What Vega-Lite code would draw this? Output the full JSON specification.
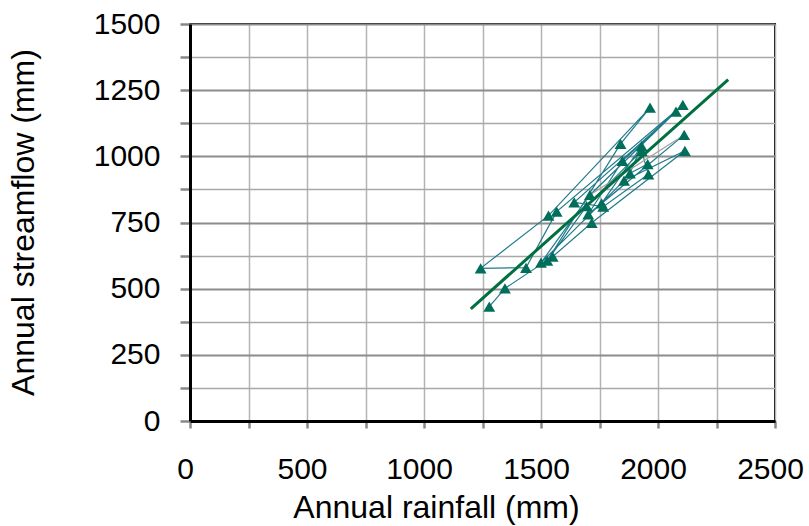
{
  "$schema": "https://vega.github.io/schema/vega-lite/v6.json",
  "autosize": {"type": "none"},
  "padding": {"left": 190, "top": 24, "right": 34, "bottom": 105},
  "width": 585,
  "height": 397,
  "background": "white",
  "config": {
    "font": "Liberation Sans",
    "view": {"stroke": "black", "strokeWidth": 2}
  },
  "datasets": {
    "obs": [
      {"order": 1, "rain": 1279, "flow": 432},
      {"order": 2, "rain": 1346, "flow": 501},
      {"order": 3, "rain": 1550, "flow": 621},
      {"order": 4, "rain": 1717, "flow": 749},
      {"order": 5, "rain": 2115, "flow": 1021},
      {"order": 6, "rain": 1855, "flow": 908},
      {"order": 7, "rain": 1500, "flow": 598},
      {"order": 8, "rain": 1709, "flow": 854},
      {"order": 9, "rain": 2106, "flow": 1194},
      {"order": 10, "rain": 1567, "flow": 791},
      {"order": 11, "rain": 1436, "flow": 579},
      {"order": 12, "rain": 1242, "flow": 577},
      {"order": 13, "rain": 1532, "flow": 776},
      {"order": 14, "rain": 1966, "flow": 1184},
      {"order": 15, "rain": 1840, "flow": 1047},
      {"order": 16, "rain": 1527, "flow": 606},
      {"order": 17, "rain": 1695, "flow": 812},
      {"order": 18, "rain": 1930, "flow": 1021},
      {"order": 19, "rain": 1959, "flow": 932},
      {"order": 20, "rain": 1766, "flow": 810},
      {"order": 21, "rain": 1642, "flow": 826},
      {"order": 22, "rain": 2077, "flow": 1169},
      {"order": 23, "rain": 1848, "flow": 983},
      {"order": 24, "rain": 1702, "flow": 781},
      {"order": 25, "rain": 2112, "flow": 1081},
      {"order": 26, "rain": 1759, "flow": 822},
      {"order": 27, "rain": 1930, "flow": 1039},
      {"order": 28, "rain": 1880, "flow": 936},
      {"order": 29, "rain": 1956, "flow": 971}
    ],
    "gray": [
      {"rain": 2112, "flow": 1081},
      {"rain": 1709, "flow": 854}
    ],
    "fit": [
      {"rain": 1200, "flow": 424},
      {"rain": 2300, "flow": 1290}
    ]
  },
  "encoding": {
    "x": {
      "field": "rain",
      "type": "quantitative",
      "scale": {"domain": [0, 2500], "nice": false, "zero": false},
      "axis": {
        "title": "Annual rainfall (mm)",
        "values": [0, 250, 500, 750, 1000, 1250, 1500, 1750, 2000, 2250, 2500],
        "format": "d",
        "labelExpr": "datum.value % 500 === 0 ? datum.label : ''",
        "labelFontSize": 30,
        "labelColor": "black",
        "labelPadding": 26,
        "labelOffset": -5,
        "labelFlush": false,
        "labelOverlap": false,
        "tickSize": 7,
        "tickColor": "#888888",
        "tickWidth": 2.5,
        "domainColor": "black",
        "domainWidth": 3,
        "gridColor": "#b4b4b4",
        "gridWidth": 1.5,
        "gridOpacity": 1,
        "titleFontSize": 32,
        "titleFontWeight": "normal",
        "titleColor": "black",
        "titleX": 246,
        "titleY": 96,
        "titleAlign": "center",
        "titleBaseline": "alphabetic"
      }
    },
    "y": {
      "field": "flow",
      "type": "quantitative",
      "scale": {"domain": [0, 1500], "nice": false, "zero": false},
      "axis": {
        "title": "Annual streamflow (mm)",
        "values": [0, 125, 250, 375, 500, 625, 750, 875, 1000, 1125, 1250, 1375, 1500],
        "format": "d",
        "labelExpr": "datum.value % 250 === 0 ? datum.label : ''",
        "labelFontSize": 30,
        "labelColor": "black",
        "labelPadding": 20,
        "labelFlush": false,
        "labelOverlap": false,
        "tickSize": 10,
        "tickColor": "#888888",
        "tickWidth": 2.5,
        "domainColor": "black",
        "domainWidth": 3,
        "gridColor": {"condition": {"test": "datum.value % 250 === 0", "value": "#8c8c8c"}, "value": "#a8a8a8"},
        "gridWidth": {"condition": {"test": "datum.value % 250 === 0", "value": 2.2}, "value": 1.5},
        "gridOpacity": 1,
        "titleFontSize": 32,
        "titleFontWeight": "normal",
        "titleColor": "black",
        "titleAngle": -90,
        "titleX": -157,
        "titleY": 198,
        "titleAlign": "center",
        "titleBaseline": "alphabetic"
      }
    }
  },
  "layer": [
    {
      "data": {"name": "obs"},
      "mark": {"type": "line", "color": "#1f7a8c", "strokeWidth": 1.2},
      "encoding": {"order": {"field": "order", "type": "quantitative"}}
    },
    {
      "data": {"name": "gray"},
      "mark": {"type": "line", "color": "#a0a0a0", "strokeWidth": 1.2},
      "encoding": {}
    },
    {
      "data": {"name": "fit"},
      "mark": {"type": "line", "color": "#007040", "strokeWidth": 3},
      "encoding": {}
    },
    {
      "data": {"name": "obs"},
      "mark": {"type": "point", "shape": "triangle-up", "filled": true, "color": "#006e5a", "size": 140, "opacity": 1},
      "encoding": {}
    }
  ]
}
